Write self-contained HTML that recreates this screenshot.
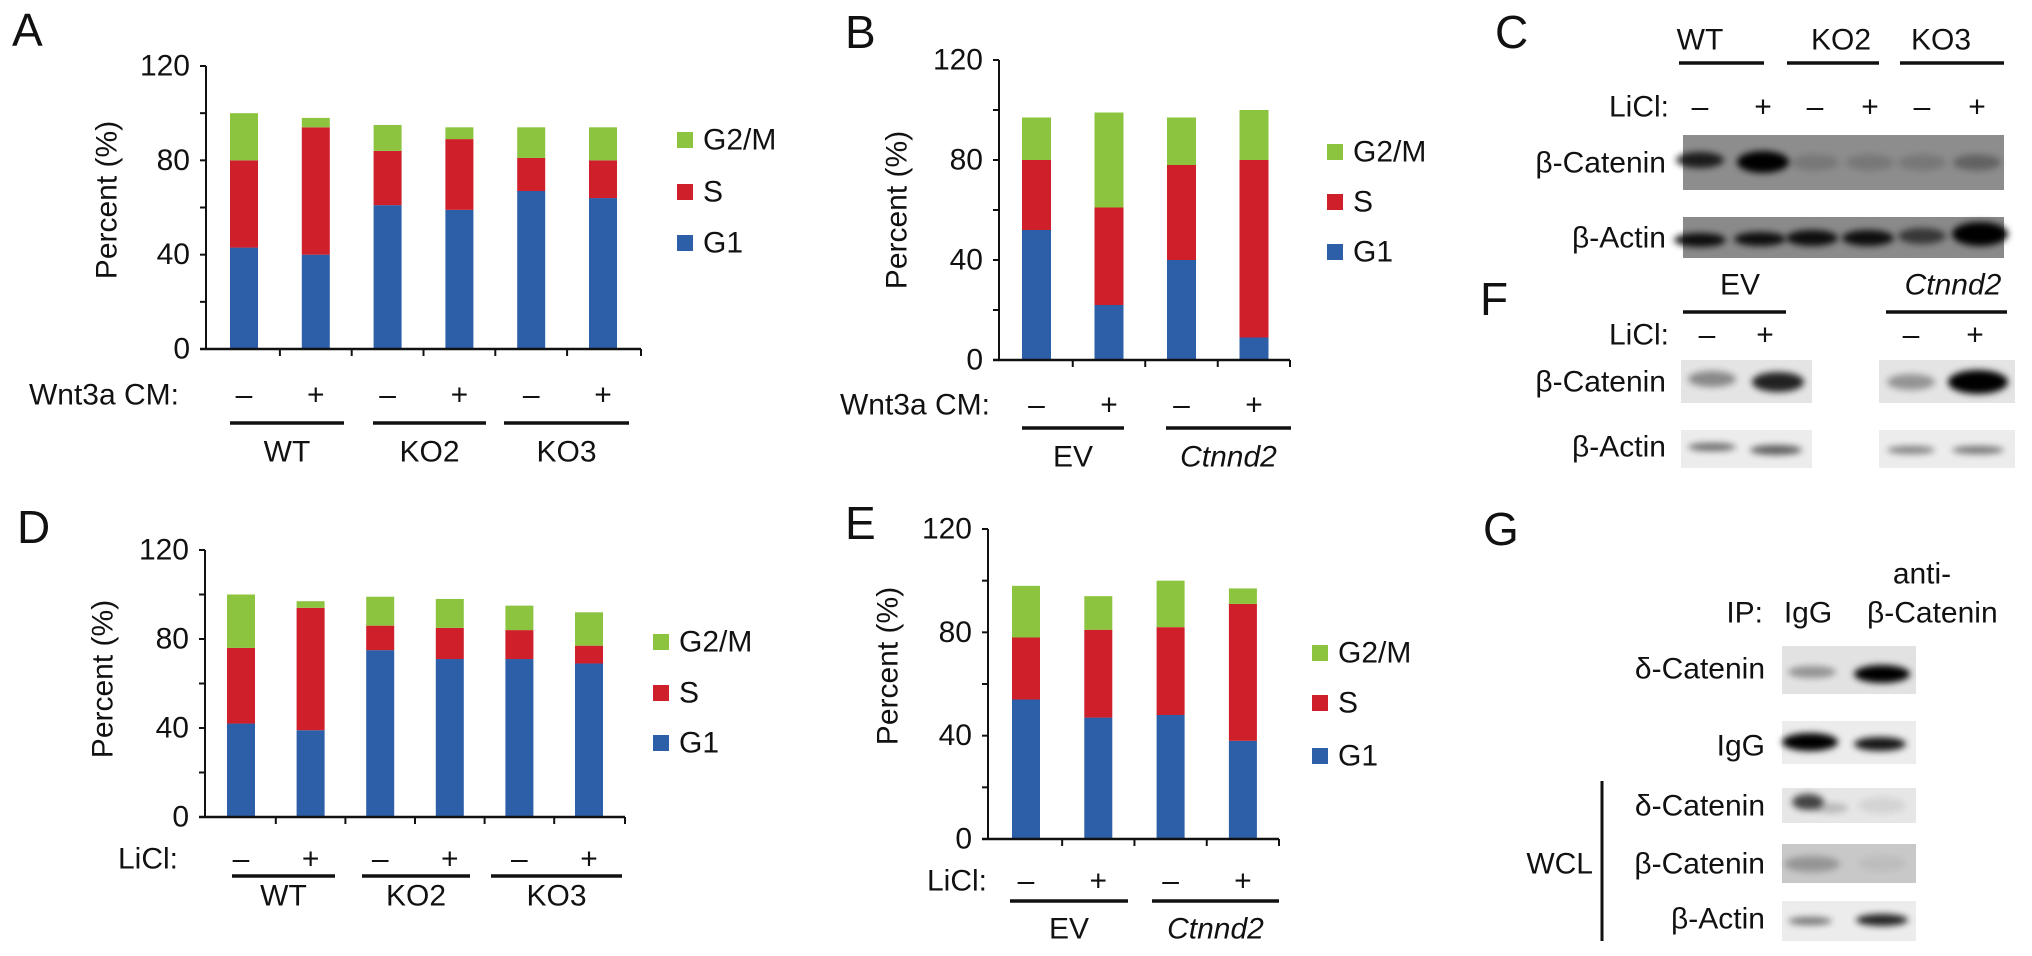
<!DOCTYPE html>
<html><head><meta charset="utf-8">
<style>
html,body{margin:0;padding:0;background:#fff;}
svg{display:block;font-family:"Liberation Sans",Arial,sans-serif;}
</style></head>
<body>
<svg id="fig" width="2032" height="956" viewBox="0 0 2032 956" xmlns="http://www.w3.org/2000/svg">
<defs>
<filter id="blur" x="-50%" y="-100%" width="200%" height="300%"><feGaussianBlur stdDeviation="3.5"/></filter>
</defs>
</svg>
<script>
// ---- chart data (percent of cells per phase) ----
const phases = ["G2/M", "S", "G1"];
const yTicks = [0, 40, 80, 120];
const aLabels = ["WT-", "WT+", "KO2-", "KO2+", "KO3-", "KO3+"];
const aG1 = [43, 40, 61, 59, 67, 64];
const aS  = [37, 54, 23, 30, 14, 16];
const aG2 = [20, 4, 11, 5, 13, 14];
const bLabels = ["EV-", "EV+", "Ctnnd2-", "Ctnnd2+"];
const bG1 = [52, 22, 40, 9];
const bS  = [28, 39, 38, 71];
const bG2 = [17, 38, 19, 20];
const dLabels = ["WT-", "WT+", "KO2-", "KO2+", "KO3-", "KO3+"];
const dG1 = [42, 39, 75, 71, 71, 69];
const dS  = [34, 55, 11, 14, 13, 8];
const dG2 = [24, 3, 13, 13, 11, 15];
const eLabels = ["EV-", "EV+", "Ctnnd2-", "Ctnnd2+"];
const eG1 = [54, 47, 48, 38];
const eS  = [24, 34, 34, 53];
const eG2 = [20, 13, 18, 6];
const signsA = ["–", "+", "–", "+", "–", "+"];
const signsB = ["–", "+", "–", "+"];

const NS = "http://www.w3.org/2000/svg";
const svg = document.getElementById("fig");
const COL = {"G1": "#2d5fa9", "S": "#cf1f2a", "G2/M": "#8cc43f"};

function el(tag, parent) {
  const e = document.createElementNS(NS, tag);
  (parent || svg).appendChild(e);
  return e;
}
function setA(e, o) { for (const k in o) e.setAttribute(k, o[k]); return e; }
function txt(parent, x, y, s, size, anchor, extra) {
  const t = el("text", parent);
  setA(t, {x: x, y: y, "font-size": size, "text-anchor": anchor || "start", "dominant-baseline": "central", fill: "#111"});
  if (extra) setA(t, extra);
  t.textContent = s;
  return t;
}

function chart(cfg, g1, s, g2) {
  const g = el("g");
  
  
  const yScale = v => cfg.y0 - (cfg.y0 - cfg.y120) * v / 120;
  const xBar = i => cfg.left + i * cfg.step;
  // y axis
  const ya = el("line", g);
  setA(ya, {x1: cfg.ax, x2: cfg.ax, y1: yScale(120), y2: cfg.y0, stroke: "#111", "stroke-width": 2});
  
  
  for (let v = 0; v <= 120; v += 20) {
    const t = el("line", g);
    setA(t, {x1: cfg.ax - 6, x2: cfg.ax, y1: yScale(v), y2: yScale(v), stroke: "#111", "stroke-width": 2});
    
    
  }
  yTicks.forEach(v => {
    const t = txt(g, cfg.ax - 16, yScale(v), String(v), 30, "end");
    
    
  });
  const yt = txt(g, 0, 0, "Percent (%)", 30, "middle", {transform: "translate(" + cfg.ytx + "," + cfg.yty + ") rotate(-90)"});
  
  
  // bars
  const n = g1.length;
  for (let i = 0; i < n; i++) {
    const segs = [["G1", 0, g1[i]], ["S", g1[i], g1[i] + s[i]], ["G2/M", g1[i] + s[i], g1[i] + s[i] + g2[i]]];
    segs.forEach(sg => {
      const r = el("rect", g);
      setA(r, {x: xBar(i), width: cfg.w, y: yScale(sg[2]), height: yScale(sg[1]) - yScale(sg[2]), fill: COL[sg[0]]});
      
      
    });
  }
  // x axis
  const xa = el("line", g);
  setA(xa, {x1: cfg.ax - 6, x2: cfg.end, y1: cfg.y0, y2: cfg.y0, stroke: "#111", "stroke-width": 2.5});
  
  
  for (let i = 1; i <= n; i++) {
    const xt = i < n ? xBar(i) - (cfg.step - cfg.w) / 2 : cfg.end;
    const t = el("line", g);
    setA(t, {x1: xt, x2: xt, y1: cfg.y0, y2: cfg.y0 + 7, stroke: "#111", "stroke-width": 2});
    
    
  }
  // treatment row
  const tl = txt(g, cfg.treatR, cfg.treatY, cfg.treat, 30, "end");
  
  
  cfg.signs.forEach((sg, i) => {
    const t = txt(g, xBar(i) + cfg.w / 2, cfg.treatY, sg, 30, "middle");
    
    
  });
  cfg.groups.forEach(gr => {
    const l = el("line", g);
    setA(l, {x1: gr[1], x2: gr[2], y1: cfg.lineY, y2: cfg.lineY, stroke: "#111", "stroke-width": 3.5});
    
    
    const t = txt(g, (gr[1] + gr[2]) / 2, cfg.groupY, gr[0], 30, "middle", gr[0] === "Ctnnd2" ? {"font-style": "italic"} : null);
    
    
  });
  // legend
  phases.forEach((p, k) => {
    const r = el("rect", g);
    setA(r, {x: cfg.legX, y: cfg.legY[k] - 8, width: 16, height: 16, fill: COL[p]});
    
    
    const t = txt(g, cfg.legX + 26, cfg.legY[k], p, 30, "start");
    
    
  });
}

chart({name: "chart-a", ax: 206, y0: 349, y120: 66, left: 230, step: 71.8, w: 28, end: 641, ytx: 107, yty: 200,
  treat: "Wnt3a CM:", treatR: 179, treatY: 395, signs: signsA, lineY: 423, groupY: 452,
  groups: [["WT", 230, 344], ["KO2", 373, 486], ["KO3", 504, 629]], legX: 677, legY: [140, 192, 243]}, aG1, aS, aG2);
chart({name: "chart-b", ax: 999, y0: 360, y120: 60, left: 1022, step: 72.5, w: 29, end: 1290, ytx: 897, yty: 210,
  treat: "Wnt3a CM:", treatR: 990, treatY: 405, signs: signsB, lineY: 428, groupY: 457,
  groups: [["EV", 1022, 1124], ["Ctnnd2", 1166, 1291]], legX: 1327, legY: [152, 202, 252]}, bG1, bS, bG2);
chart({name: "chart-d", ax: 205, y0: 817, y120: 550, left: 227, step: 69.6, w: 28, end: 625, ytx: 103, yty: 679,
  treat: "LiCl:", treatR: 178, treatY: 859, signs: signsA, lineY: 876, groupY: 896,
  groups: [["WT", 232, 335], ["KO2", 362, 470], ["KO3", 491, 622]], legX: 653, legY: [642, 693, 743]}, dG1, dS, dG2);
chart({name: "chart-e", ax: 988, y0: 839, y120: 529, left: 1012, step: 72.3, w: 28, end: 1279, ytx: 888, yty: 666,
  treat: "LiCl:", treatR: 987, treatY: 881, signs: signsB, lineY: 901, groupY: 929,
  groups: [["EV", 1010, 1128], ["Ctnnd2", 1152, 1279]], legX: 1312, legY: [653, 703, 756]}, eG1, eS, eG2);

// panel letters
[["A", 12, 30], ["B", 845, 32], ["C", 1495, 32], ["D", 17, 527], ["E", 845, 523], ["F", 1480, 299], ["G", 1483, 529]].forEach(p => {
  const t = txt(svg, p[1], p[2], p[0], 46, "start");
  
  
});

// ---- western blots ----
function blot(name, x, y, w, h, bg, bands) {
  const g = el("g");
  
  
  const r = el("rect", g);
  setA(r, {x: x, y: y, width: w, height: h, fill: bg});
  const cy = y + h / 2;
  bands.forEach(b => {
    const e = el("ellipse", g);
    setA(e, {cx: b[0], cy: b[2] || cy, rx: b[3] || 24, ry: b[4] || 8, fill: "#000", opacity: b[1], filter: "url(#blur)"});
  });
}
function label(s, x, y, anchor, name, extra) {
  const t = txt(svg, x, y, s, 30, anchor || "end", extra);
  
  
}
// C
label("WT", 1700, 40, "middle", "c-group-wt");
label("KO2", 1841, 40, "middle", "c-group-ko2");
label("KO3", 1941, 40, "middle", "c-group-ko3");
[[1679, 1764], [1787, 1879], [1900, 2004]].forEach(l => {
  const ln = el("line"); setA(ln, {x1: l[0], x2: l[1], y1: 63, y2: 63, stroke: "#111", "stroke-width": 3.5});
  
  
});
label("LiCl:", 1669, 107, "end", "c-licl-label");
[1700, 1763, 1815, 1870, 1922, 1977].forEach((x, i) => label(i % 2 ? "+" : "–", x, 107, "middle", "c-licl-sign"));
label("β-Catenin", 1666, 163, "end", "c-beta-catenin-label");
label("β-Actin", 1666, 238, "end", "c-beta-actin-label");
blot("c-beta-catenin-blot", 1683, 135, 321, 55, "#8d8d8d", [[1700, 0.8, 160], [1763, 1, 162, 26, 11], [1815, 0.15], [1870, 0.15], [1922, 0.15], [1977, 0.3]]);
blot("c-beta-actin-blot", 1683, 217, 321, 41, "#8a8a8a", [[1700, 0.9, 240, 26, 7], [1760, 0.9, 239, 26, 7], [1812, 0.9, 238, 26, 8], [1868, 0.9, 238, 26, 8], [1922, 0.6, 236], [1980, 1, 234, 28, 12]]);
// F
label("EV", 1740, 285, "middle", "f-group-ev");
label("Ctnnd2", 1953, 285, "middle", "f-group-ctnnd2", {"font-style": "italic"});
[[1683, 1786], [1886, 2007]].forEach(l => {
  const ln = el("line"); setA(ln, {x1: l[0], x2: l[1], y1: 312, y2: 312, stroke: "#111", "stroke-width": 3.5});
  
  
});
label("LiCl:", 1669, 335, "end", "f-licl-label");
[1707, 1765, 1911, 1975].forEach((x, i) => label(i % 2 ? "+" : "–", x, 335, "middle", "f-licl-sign"));
label("β-Catenin", 1666, 382, "end", "f-beta-catenin-label");
label("β-Actin", 1666, 447, "end", "f-beta-actin-label");
blot("f-beta-catenin-blot-ev", 1681, 360, 131, 43, "#e4e4e4", [[1712, 0.4, 379], [1778, 0.85, 382, 26, 10]]);
blot("f-beta-catenin-blot-ctnnd2", 1879, 360, 136, 43, "#e4e4e4", [[1911, 0.35, 382], [1978, 1, 382, 30, 12]]);
blot("f-beta-actin-blot-ev", 1681, 430, 131, 38, "#ececec", [[1712, 0.55, 447, 24, 4], [1776, 0.6, 450, 26, 5]]);
blot("f-beta-actin-blot-ctnnd2", 1879, 430, 136, 38, "#ececec", [[1911, 0.45, 450, 24, 4], [1978, 0.5, 450, 26, 4]]);
// G
label("anti-", 1922, 574, "middle", "g-anti-header");
label("IP:", 1763, 613, "end", "g-ip-label");
label("IgG", 1808, 613, "middle", "g-igg-header");
label("β-Catenin", 1867, 613, "start", "g-beta-catenin-header");
label("δ-Catenin", 1765, 669, "end", "g-delta-catenin-label");
label("IgG", 1765, 746, "end", "g-igg-label");
label("δ-Catenin", 1765, 806, "end", "g-wcl-delta-catenin-label");
label("β-Catenin", 1765, 864, "end", "g-wcl-beta-catenin-label");
label("β-Actin", 1765, 919, "end", "g-wcl-beta-actin-label");
label("WCL", 1593, 864, "end", "g-wcl-label");
const wl = el("line"); setA(wl, {x1: 1602, x2: 1602, y1: 781, y2: 941, stroke: "#111", "stroke-width": 3});


blot("g-delta-catenin-blot", 1782, 646, 134, 48, "#e2e2e2", [[1812, 0.35, 672, 24, 6], [1882, 1, 674, 28, 9]]);
blot("g-igg-blot", 1782, 721, 134, 43, "#ececec", [[1810, 1, 742, 28, 9], [1880, 0.9, 744, 26, 7]]);
blot("g-wcl-delta-catenin-blot", 1782, 788, 134, 35, "#e6e6e6", [[1808, 0.7, 802, 16, 8], [1830, 0.2, 808, 18, 5], [1882, 0.08]]);
blot("g-wcl-beta-catenin-blot", 1782, 844, 134, 39, "#c8c8c8", [[1812, 0.25, 864, 28, 8], [1882, 0.05]]);
blot("g-wcl-beta-actin-blot", 1782, 901, 134, 40, "#ececec", [[1810, 0.5, 921, 22, 4], [1882, 0.85, 920, 26, 6]]);
</script>
</body></html>
